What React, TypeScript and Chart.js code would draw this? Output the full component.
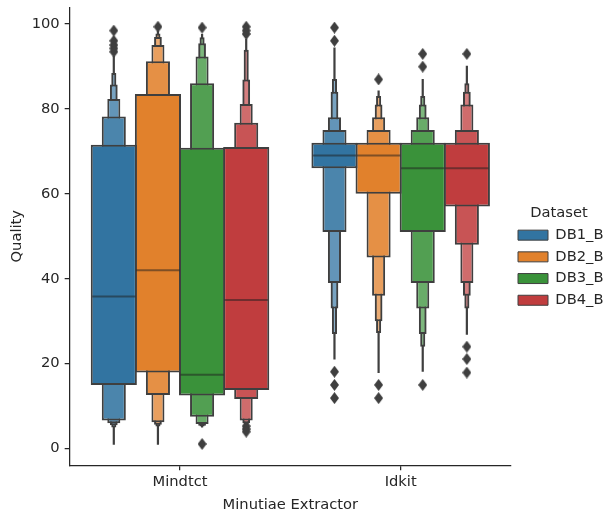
import React, { useEffect, useRef } from 'react';
import { Chart, registerables } from 'chart.js';

Chart.register(...registerables);

const categories = ['Mindtct', 'Idkit'];
const datasetNames = ['DB1_B', 'DB2_B', 'DB3_B', 'DB4_B'];
const baseColors = ['#3274a1', '#e1812c', '#3a923a', '#c03d3e'];
const yTicks = [0, 20, 40, 60, 80, 100];

// Letter values per dataset, [Mindtct, Idkit]; from the quartile box outward, last = tail end
const db1Lower = [[15.0, 6.6, 6.0, 5.5, 5.0, 0.9], [66, 51, 39, 33, 27, 21]];
const db1Upper = [[71.5, 78.2, 82.3, 85.7, 88.4, 92.4], [72, 75, 78, 84, 87, 94.4]];
const db1Median = [35.8, 69];
const db1Outliers = [[98.4, 96.0, 95.0, 94.2, 93.4], [99.1, 96.0, 18.1, 15.0, 11.9]];

const db2Lower = [[17.9, 12.6, 6.2, 5.6, 5.2, 0.9], [60, 45, 36, 30, 27.2, 17.8]];
const db2Upper = [[83.5, 91.2, 95.0, 96.9, 97.7, 98.4], [72, 75, 78, 81, 83, 84.3]];
const db2Median = [42.0, 69];
const db2Outliers = [[99.3], [86.9, 15.0, 11.9]];

const db3Lower = [[12.5, 7.5, 5.8, 5.4, 5.2, 5.0], [51, 39, 33, 27, 24, 18.1]];
const db3Upper = [[70.8, 86.0, 92.3, 95.4, 96.8, 97.6], [72, 75, 78, 81, 83, 87]];
const db3Median = [17.4, 66];
const db3Outliers = [[99.1, 1.1], [92.9, 89.9, 15.0]];

const db4Lower = [[13.8, 11.7, 6.6, 6.0, 5.8, 5.6], [57, 48, 39, 36, 33, 26.8]];
const db4Upper = [[71.0, 76.7, 81.1, 86.9, 93.9, 96.5], [72, 75, 81, 84, 86, 90.1]];
const db4Median = [35.0, 66];
const db4Outliers = [[99.3, 98.4, 97.6, 5.3, 4.6, 4.0], [92.9, 24.0, 21.1, 17.9]];

const lowers = [db1Lower, db2Lower, db3Lower, db4Lower];
const uppers = [db1Upper, db2Upper, db3Upper, db4Upper];
const medians = [db1Median, db2Median, db3Median, db4Median];
const outliers = [db1Outliers, db2Outliers, db3Outliers, db4Outliers];

// styles
const levelWidths = [1, 0.5, 0.25, 0.13, 0.07, 0.05];
const levelLighten = [0, 0.12, 0.24, 0.34, 0.44];
const groupWidth = 0.8;
const edgeWidth = 2;
const slotPx = 44.2;
const edge = '#3f3f3f';
const ink = '#262626';
const FONT = 14.7;

function lighten(hex: string, f: number) {
  const n = parseInt(hex.slice(1), 16);
  const r = (n >> 16) & 255, g = (n >> 8) & 255, b = n & 255;
  const m = (c: number) => Math.round(c + (255 - c) * f);
  return `rgb(${m(r)},${m(g)},${m(b)})`;
}

function diamond() {
  const c = document.createElement('canvas');
  c.width = 9;
  c.height = 12;
  const g = c.getContext('2d')!;
  g.fillStyle = edge;
  g.beginPath();
  g.moveTo(4.5, 0);
  g.lineTo(9, 6);
  g.lineTo(4.5, 12);
  g.lineTo(0, 6);
  g.closePath();
  g.fill();
  return c;
}

const hueX = (ci: number, h: number) =>
  ci + (h - (datasetNames.length - 1) / 2) * (groupWidth / datasetNames.length);

const noPad = (s: any) => {
  s.paddingTop = 0;
  s.paddingBottom = 0;
  s.paddingLeft = 0;
  s.paddingRight = 0;
};

export default function App() {
  const ref = useRef<HTMLCanvasElement>(null);
  useEffect(() => {
    if (!ref.current) return;
    Chart.defaults.font.family = "'DejaVu Sans', sans-serif";
    Chart.defaults.font.size = FONT;
    const datasets: any[] = [];
    // medians (drawn on top)
    datasetNames.forEach((name, h) => {
      datasets.push({
        type: 'bar',
        label: name + ' median',
        data: categories.map((_, ci) => ({ x: hueX(ci, h), y: [medians[h][ci] - 0.25, medians[h][ci] + 0.25] })),
        backgroundColor: 'rgba(30,30,30,0.5)',
        borderWidth: 0,
        grouped: false,
        barPercentage: 0.98,
        categoryPercentage: 1,
        inflateAmount: 0,
      });
    });
    levelWidths.forEach((w, k) => {
      datasetNames.forEach((name, h) => {
        const tail = k === levelWidths.length - 1;
        datasets.push({
          type: 'bar',
          label: name,
          data: categories.map((_, ci) => ({ x: hueX(ci, h), y: [lowers[h][ci][k], uppers[h][ci][k]] })),
          backgroundColor: tail ? edge : lighten(baseColors[h], levelLighten[k]),
          borderColor: edge,
          borderWidth: tail ? 0 : edgeWidth,
          borderSkipped: false,
          grouped: false,
          barPercentage: tail ? w : w + edgeWidth / slotPx,
          categoryPercentage: 1,
          inflateAmount: 0,
        });
      });
    });
    const img = diamond();
    datasetNames.forEach((name, h) => {
      const pts: { x: number; y: number }[] = [];
      categories.forEach((_, ci) => {
        outliers[h][ci].forEach((v) => pts.push({ x: hueX(ci, h), y: v }));
      });
      datasets.push({
        type: 'scatter',
        label: name + ' outliers',
        data: pts,
        pointStyle: img,
        backgroundColor: edge,
        borderColor: edge,
        pointRadius: 5,
      });
    });

    const chart = new Chart(ref.current, {
      type: 'bar',
      data: { datasets },
      options: {
        animation: false,
        responsive: true,
        maintainAspectRatio: false,
        layout: { padding: { left: 8, top: 7.2, right: 0, bottom: -1.5 } },
        plugins: {
          tooltip: { enabled: false },
          legend: {
            position: 'right',
            align: 'center',
            maxWidth: 96,
            title: {
              display: true,
              text: 'Dataset',
              color: ink,
              font: { size: FONT, lineHeight: 1.0 },
              padding: { top: 0, bottom: 0 },
            },
            labels: {
              color: ink,
              boxWidth: 30,
              boxHeight: 10,
              padding: 7,
              font: { size: FONT },
              generateLabels: () =>
                datasetNames.map((n, i) => ({
                  text: n,
                  fillStyle: baseColors[i],
                  strokeStyle: edge,
                  lineWidth: 1,
                  hidden: false,
                  datasetIndex: i,
                  fontColor: ink,
                })),
            },
          },
        },
        scales: {
          x: {
            type: 'linear',
            min: -0.5,
            max: 1.5,
            offset: false,
            afterBuildTicks: (s: any) => {
              s.ticks = categories.map((_, i) => ({ value: i }));
            },
            afterFit: noPad,
            grid: { display: true, offset: false, drawOnChartArea: false, tickLength: 5, color: ink, lineWidth: 1.25 },
            border: { display: true, color: ink, width: 1.25 },
            ticks: {
              color: ink,
              font: { size: FONT },
              padding: 3,
              callback: (v: any) => categories[Math.round(Number(v))] ?? '',
            },
            title: { display: true, text: 'Minutiae Extractor', color: ink, font: { size: FONT }, padding: { top: 2, bottom: 0 } },
          },
          y: {
            type: 'linear',
            min: -3.9,
            max: 103.9,
            stacked: false,
            afterBuildTicks: (s: any) => {
              s.ticks = yTicks.map((v) => ({ value: v }));
            },
            afterFit: noPad,
            grid: { display: true, offset: false, drawOnChartArea: false, tickLength: 5, color: ink, lineWidth: 1.25 },
            border: { display: true, color: ink, width: 1.25 },
            ticks: { color: ink, font: { size: FONT }, padding: 5 },
            title: { display: true, text: 'Quality', color: ink, font: { size: FONT }, padding: { top: 0, bottom: 1 } },
          },
        },
      } as any,
    });
    return () => chart.destroy();
  }, []);
  return (
    <div style={{ position: 'fixed', left: 0, top: 0, width: 607, height: 512, background: '#fff' }}>
      <canvas ref={ref} />
    </div>
  );
}
